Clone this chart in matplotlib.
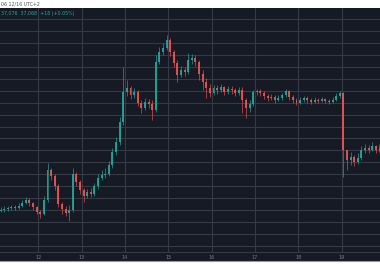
import numpy as np
import pandas as pd
import matplotlib
matplotlib.use("Agg")
import matplotlib.pyplot as plt
import matplotlib.dates as mdates
from matplotlib.patches import Rectangle
from matplotlib.lines import Line2D

# ---- data (2-hour candles) ----
first_open = 36146
close = [36150, 36155, 36159, 36163, 36159, 36167, 36180, 36192, 36180, 36163,
         36142, 36134, 36192, 36318, 36293, 36251, 36175, 36155, 36138, 36150,
         36301, 36268, 36234, 36209, 36226, 36217, 36251, 36284, 36297, 36301,
         36339, 36393, 36435, 36519, 36644, 36661, 36632, 36644, 36598, 36577,
         36602, 36594, 36569, 36770, 36812, 36828, 36862, 36812, 36765, 36715,
         36736, 36728, 36778, 36786, 36770, 36719, 36686, 36661, 36640, 36661,
         36652, 36665, 36644, 36657, 36652, 36640, 36652, 36611, 36577, 36594,
         36644, 36648, 36640, 36627, 36619, 36623, 36611, 36619, 36632, 36648,
         36623, 36611, 36598, 36611, 36619, 36611, 36602, 36611, 36606, 36615,
         36606, 36602, 36611, 36627, 36640, 36401, 36360, 36372, 36351, 36368,
         36401, 36410, 36401, 36418, 36401, 36410]
high = [36163, 36167, 36167, 36171, 36171, 36180, 36192, 36205, 36201, 36184,
        36167, 36150, 36209, 36347, 36326, 36301, 36259, 36184, 36167, 36171,
        36326, 36309, 36276, 36242, 36238, 36242, 36263, 36301, 36318, 36326,
        36355, 36410, 36456, 36540, 36749, 36694, 36669, 36661, 36652, 36611,
        36619, 36615, 36611, 36799, 36833, 36849, 36883, 36870, 36820, 36778,
        36753, 36749, 36807, 36803, 36799, 36778, 36736, 36703, 36678, 36673,
        36673, 36678, 36669, 36669, 36669, 36661, 36665, 36665, 36619, 36611,
        36652, 36657, 36657, 36648, 36636, 36636, 36632, 36632, 36640, 36657,
        36652, 36632, 36619, 36623, 36627, 36627, 36619, 36623, 36619, 36623,
        36619, 36615, 36623, 36640, 36648, 36644, 36401, 36393, 36380, 36389,
        36418, 36427, 36422, 36435, 36422, 36427]
low = [36142, 36142, 36146, 36150, 36150, 36155, 36163, 36175, 36167, 36150,
       36134, 36117, 36129, 36184, 36276, 36234, 36163, 36134, 36125, 36104,
       36142, 36251, 36217, 36184, 36201, 36205, 36209, 36238, 36276, 36284,
       36293, 36326, 36380, 36422, 36506, 36627, 36615, 36619, 36586, 36556,
       36569, 36577, 36527, 36560, 36761, 36799, 36820, 36795, 36749, 36686,
       36707, 36711, 36719, 36761, 36753, 36694, 36652, 36619, 36623, 36632,
       36636, 36644, 36632, 36636, 36636, 36627, 36632, 36556, 36535, 36560,
       36586, 36632, 36627, 36615, 36606, 36611, 36598, 36606, 36611, 36623,
       36611, 36598, 36590, 36594, 36602, 36598, 36594, 36598, 36598, 36602,
       36598, 36594, 36598, 36606, 36619, 36288, 36318, 36339, 36334, 36343,
       36360, 36389, 36389, 36397, 36389, 36393]
day_labels = ["12", "13", "14", "15", "16", "17", "18", "19"]
header_time = "06 12/16 UTC+2"
header_quote = "37,076  37,068  +18 (+0.05%)"

# ---- styling ----
BG = "#161a25"
GRID = "#363a45"
UP = "#26a69a"
DOWN = "#ef5350"
TXT = "#787b86"

times = pd.date_range("2023-12-11 03:00", periods=len(close), freq="2h")
opn = [first_open] + close[:-1]

fig = plt.figure(figsize=(3.8, 2.8), dpi=100, facecolor="white")
# dark panel behind plot and time axis
fig.patches.append(Rectangle((0, 19 / 280), 1, (272.5 - 19) / 280, transform=fig.transFigure,
                             facecolor=BG, edgecolor="none", zorder=-5))
fig.lines.append(Line2D([0, 1], [19.5 / 280, 19.5 / 280], transform=fig.transFigure,
                        color="#9598a1", linewidth=0.8, zorder=-4))

ax = fig.add_axes([0, 28 / 280, 1, (272.5 - 28) / 280])
ax.set_facecolor(BG)

xnum = mdates.date2num(times)
o = np.array(opn, dtype=float)
c = np.array(close, dtype=float)
h = np.array(high, dtype=float)
l = np.array(low, dtype=float)
up = c >= o
cols = np.where(up, UP, DOWN)

ax.vlines(xnum, l, h, colors=cols, linewidth=0.5, alpha=0.9, zorder=3)
bottom = np.minimum(o, c)
height = np.maximum(np.abs(c - o), 1.5)
ax.bar(xnum, height, bottom=bottom, width=0.045, color=cols, alpha=0.9,
       linewidth=0, zorder=4)

ax.set_xlim(pd.Timestamp("2023-12-11 02:40"), pd.Timestamp("2023-12-19 21:17"))
ax.set_ylim(35975, 36998)

day_ticks = pd.date_range("2023-12-12", periods=len(day_labels), freq="D")
ax.set_xticks(mdates.date2num(day_ticks))
ax.set_xticklabels(day_labels)
ax.set_yticks(np.arange(36000, 36951, 50))
ax.grid(True, color=GRID, linewidth=0.8, zorder=1)
ax.set_axisbelow(True)
ax.tick_params(axis="x", length=0, pad=2, labelsize=3.6, colors=TXT)
ax.tick_params(axis="y", length=0, labelleft=False)
for s in ["top", "left", "right"]:
    ax.spines[s].set_visible(False)
ax.spines["bottom"].set_color(GRID)
ax.spines["bottom"].set_linewidth(0.8)

fig.text(0.003, 1 - 3.8 / 280, header_time, fontsize=3.4, color="#50535e",
         ha="left", va="center")
fig.text(0.003, 1 - 13 / 280, header_quote, fontsize=3.4, color=UP,
         ha="left", va="center")

fig.savefig("out.png", dpi=100, facecolor="white")
